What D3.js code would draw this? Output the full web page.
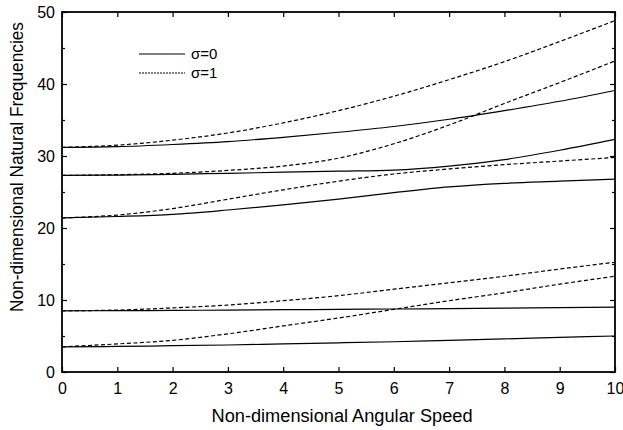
<!DOCTYPE html>
<html>
<head>
<meta charset="utf-8">
<script src="https://cdn.jsdelivr.net/npm/d3@7"></script>
<style>
	body	{ margin:0; background:#fff; }
	svg text{ font-family:"Liberation Sans", Arial, sans-serif; fill:#000; }
</style>
</head>
<body>
<svg id="chart" width="623" height="430"></svg>
<script>
var	speeds		= [0, 1, 2, 3, 4, 5, 6, 7, 8, 9, 10],
	xTicks		= [0, 1, 2, 3, 4, 5, 6, 7, 8, 9, 10],
	yTicks		= [0, 10, 20, 30, 40, 50],
	yMinor		= [5, 15, 25, 35, 45],
	// sigma = 0 (solid)
	sig0Mode1	= [3.5, 3.55, 3.65, 3.75, 3.9, 4.05, 4.2, 4.4, 4.6, 4.8, 5.0],
	sig0Mode2	= [8.5, 8.52, 8.55, 8.6, 8.65, 8.7, 8.75, 8.8, 8.87, 8.93, 9.0],
	sig0Mode3	= [21.4, 21.6, 21.9, 22.5, 23.2, 24.0, 24.9, 25.7, 26.2, 26.5, 26.8],
	sig0Mode4	= [27.3, 27.35, 27.45, 27.6, 27.75, 27.9, 28.05, 28.6, 29.5, 30.8, 32.3],
	sig0Mode5	= [31.2, 31.3, 31.6, 32.0, 32.6, 33.3, 34.1, 35.1, 36.3, 37.6, 39.1],
	// sigma = 1 (dashed)
	sig1Mode1	= [3.5, 3.9, 4.4, 5.3, 6.4, 7.5, 8.7, 9.9, 11.0, 12.2, 13.3],
	sig1Mode2	= [8.5, 8.6, 8.9, 9.3, 9.9, 10.6, 11.5, 12.4, 13.3, 14.3, 15.25],
	sig1Mode3	= [21.4, 21.8, 22.7, 24.0, 25.3, 26.5, 27.5, 28.2, 28.8, 29.3, 29.8],
	sig1Mode4	= [27.3, 27.4, 27.6, 28.0, 28.6, 29.7, 31.7, 34.3, 37.3, 40.2, 43.2],
	sig1Mode5	= [31.2, 31.5, 32.2, 33.2, 34.6, 36.3, 38.3, 40.6, 43.1, 45.9, 48.8],
	seriesSig0	= [sig0Mode1, sig0Mode2, sig0Mode3, sig0Mode4, sig0Mode5],
	seriesSig1	= [sig1Mode1, sig1Mode2, sig1Mode3, sig1Mode4, sig1Mode5],
	legendItems	= [{label:"σ=0", dash:null}, {label:"σ=1", dash:"2,1"}];

var	margin	= {left:62, top:12, right:8, bottom:58},
	svg	= d3.select("#chart"),
	width	= +svg.attr("width") - margin.left - margin.right,
	height	= +svg.attr("height") - margin.top - margin.bottom,
	x	= d3.scaleLinear().domain([0, 10]).range([0, width]),
	y	= d3.scaleLinear().domain([0, 50]).range([height, 0]),
	g	= svg.append("g").attr("transform", "translate(" + margin.left + "," + margin.top + ")");

var line = d3.line()
	.x(function(d, i) { return x(speeds[i]); })
	.y(function(d) { return y(d); })
	.curve(d3.curveMonotoneX);

// curves
g.selectAll(".sig0").data(seriesSig0).enter().append("path").attr("class", "sig0")
	.attr("d", line).attr("fill", "none").attr("stroke", "#000").attr("stroke-width", 1.2);
g.selectAll(".sig1").data(seriesSig1).enter().append("path").attr("class", "sig1")
	.attr("d", line).attr("fill", "none").attr("stroke", "#000").attr("stroke-width", 1.2)
	.attr("stroke-dasharray", "4,2.5");

// axes, ticks inward
function styleAxis(sel) {
	sel.select(".domain").remove();
	sel.selectAll("line").attr("stroke", "#000").attr("stroke-width", 1.2);
	sel.selectAll("text").style("font-size", "16px");
}
g.append("g").attr("transform", "translate(0," + height + ")")
	.call(d3.axisBottom(x).tickValues(xTicks).tickSizeInner(-5).tickSizeOuter(0).tickPadding(11).tickFormat(d3.format("d")))
	.call(styleAxis);
g.append("g")
	.call(d3.axisTop(x).tickValues(xTicks).tickSizeInner(-5).tickSizeOuter(0).tickFormat(""))
	.call(styleAxis);
g.append("g")
	.call(d3.axisLeft(y).tickValues(yTicks).tickSizeInner(-5).tickSizeOuter(0).tickPadding(7).tickFormat(d3.format("d")))
	.call(styleAxis);
g.append("g")
	.call(d3.axisLeft(y).tickValues(yMinor).tickSizeInner(-3).tickSizeOuter(0).tickFormat(""))
	.call(styleAxis);
g.append("g").attr("transform", "translate(" + width + ",0)")
	.call(d3.axisRight(y).tickValues(yTicks).tickSizeInner(-5).tickSizeOuter(0).tickFormat(""))
	.call(styleAxis);
g.append("g").attr("transform", "translate(" + width + ",0)")
	.call(d3.axisRight(y).tickValues(yMinor).tickSizeInner(-3).tickSizeOuter(0).tickFormat(""))
	.call(styleAxis);

// frame
g.append("rect").attr("width", width).attr("height", height)
	.attr("fill", "none").attr("stroke", "#000").attr("stroke-width", 1.8);

// legend
var legend = g.selectAll(".legend").data(legendItems).enter().append("g").attr("class", "legend")
	.attr("transform", function(d, i) { return "translate(77," + (42 + i * 19) + ")"; });
legend.append("line").attr("x1", 0).attr("x2", 46).attr("y1", 0).attr("y2", 0)
	.attr("stroke", "#000").attr("stroke-width", 1)
	.attr("stroke-dasharray", function(d) { return d.dash; });
legend.append("text").attr("x", 52).attr("y", 5).style("font-size", "15px").text(function(d) { return d.label; });

// axis titles
svg.append("text").attr("x", 342).attr("y", 422).attr("text-anchor", "middle")
	.attr("textLength", 261).attr("lengthAdjust", "spacingAndGlyphs")
	.style("font-size", "18px").text("Non-dimensional Angular Speed");
svg.append("text").attr("transform", "translate(23,167) rotate(-90)")
	.attr("text-anchor", "middle").attr("textLength", 290).attr("lengthAdjust", "spacingAndGlyphs")
	.style("font-size", "18px").text("Non-dimensional Natural Frequencies");
</script>
</body>
</html>
